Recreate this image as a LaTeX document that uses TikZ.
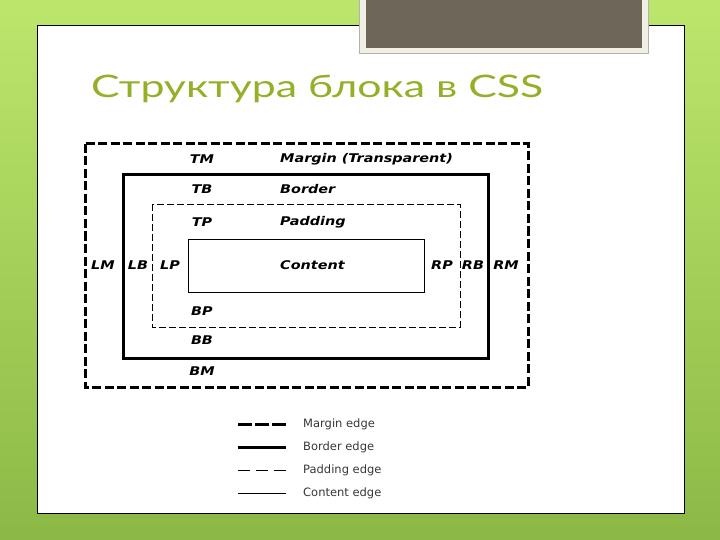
\documentclass[tikz,border=0pt]{standalone}
\usepackage{fontspec}
\setmainfont{DejaVu Sans}
\newfontfamily\titlefont[FakeStretch=1.38]{Lato}
\newfontfamily\lblfont[FakeStretch=1.2]{DejaVu Sans}
\usetikzlibrary{positioning}

\definecolor{slidegreen}{RGB}{140,185,70}
\definecolor{lightgreen}{RGB}{188,230,108}
\definecolor{titlegreen}{RGB}{148,176,40}
\definecolor{tabbrown}{RGB}{110,102,88}
\definecolor{tabframe}{RGB}{242,240,228}
\definecolor{legendgray}{RGB}{55,55,55}

\tikzset{
  lbl/.style={font=\lblfont\fontsize{12}{14}\selectfont\bfseries\itshape, inner sep=0pt},
  lblw/.style={lbl, anchor=west},
  legtext/.style={font=\fontsize{11.5}{13}\selectfont, text=legendgray, anchor=west, inner sep=0pt},
  marginedge/.style={line width=3pt, dash pattern=on 9pt off 3.5pt},
  borderedge/.style={line width=3pt},
  paddingedge/.style={line width=0.9pt, dash pattern=on 7pt off 3pt},
  contentedge/.style={line width=0.9pt},
}

\begin{document}
\begin{tikzpicture}[x=1pt,y=-1pt]
  \useasboundingbox (0,0) rectangle (720,540);

  % Slide background and panel
  \shade[top color=lightgreen, bottom color=slidegreen] (0,0) rectangle (720,540);
  \draw[fill=white, line width=1pt] (37,26) rectangle (684,513);

  % Brown tab at the top
  \draw[fill=tabframe, draw=gray!60] (359,-5) rectangle (648,53);
  \fill[tabbrown] (366,-5) rectangle (642,48);

  % Title
  \node[anchor=base west, text=titlegreen, inner sep=0pt,
        font=\titlefont\fontsize{31}{36}\selectfont] (title) at (91,98)
        {Структура блока в CSS};

  % Box edges
  \draw[marginedge] (85,144) rectangle (528,387);
  \draw[borderedge] (123,175) rectangle (488,358);
  \draw[paddingedge] (152,204) rectangle (460,327);
  \draw[contentedge] (188,239) rectangle (424,292);

  % Top labels
  \node[lbl] (tm) at (202,159) {TM};
  \node[lbl] (tb) at (202,189) {TB};
  \node[lbl] (tp) at (202,222) {TP};
  \node[lblw] (margin) at (280,159) {Margin (Transparent)};
  \node[lblw] (border) at (280,189) {Border};
  \node[lblw] (padding) at (280,222) {Padding};
  \node[lblw] (content) at (280,265) {Content};

  % Side labels
  \node[lbl] (lm) at (103,265) {LM};
  \node[lbl] (lb) at (138,265) {LB};
  \node[lbl] (lp) at (170,265) {LP};
  \node[lbl] (rp) at (442,265) {RP};
  \node[lbl] (rb) at (473,265) {RB};
  \node[lbl] (rm) at (506,265) {RM};

  % Bottom labels
  \node[lbl] (bp) at (202,311) {BP};
  \node[lbl] (bb) at (202,340) {BB};
  \node[lbl] (bm) at (202,371) {BM};

  % Legend
  \node[legtext] (mleg) at (303,424) {Margin edge};
  \node[legtext] (bleg) at (303,447) {Border edge};
  \node[legtext] (pleg) at (303,470) {Padding edge};
  \node[legtext] (cleg) at (303,493) {Content edge};
  \draw[line width=3pt, dash pattern=on 13.5pt off 3.5pt] ([xshift=-65pt]mleg.west) -- ++(48,0);
  \draw[borderedge] ([xshift=-65pt]bleg.west) -- ++(48,0);
  \draw[line width=0.8pt, dash pattern=on 12pt off 6pt] ([xshift=-65pt]pleg.west) -- ++(48,0);
  \draw[line width=0.8pt] ([xshift=-65pt]cleg.west) -- ++(48,0);
\end{tikzpicture}
\end{document}
